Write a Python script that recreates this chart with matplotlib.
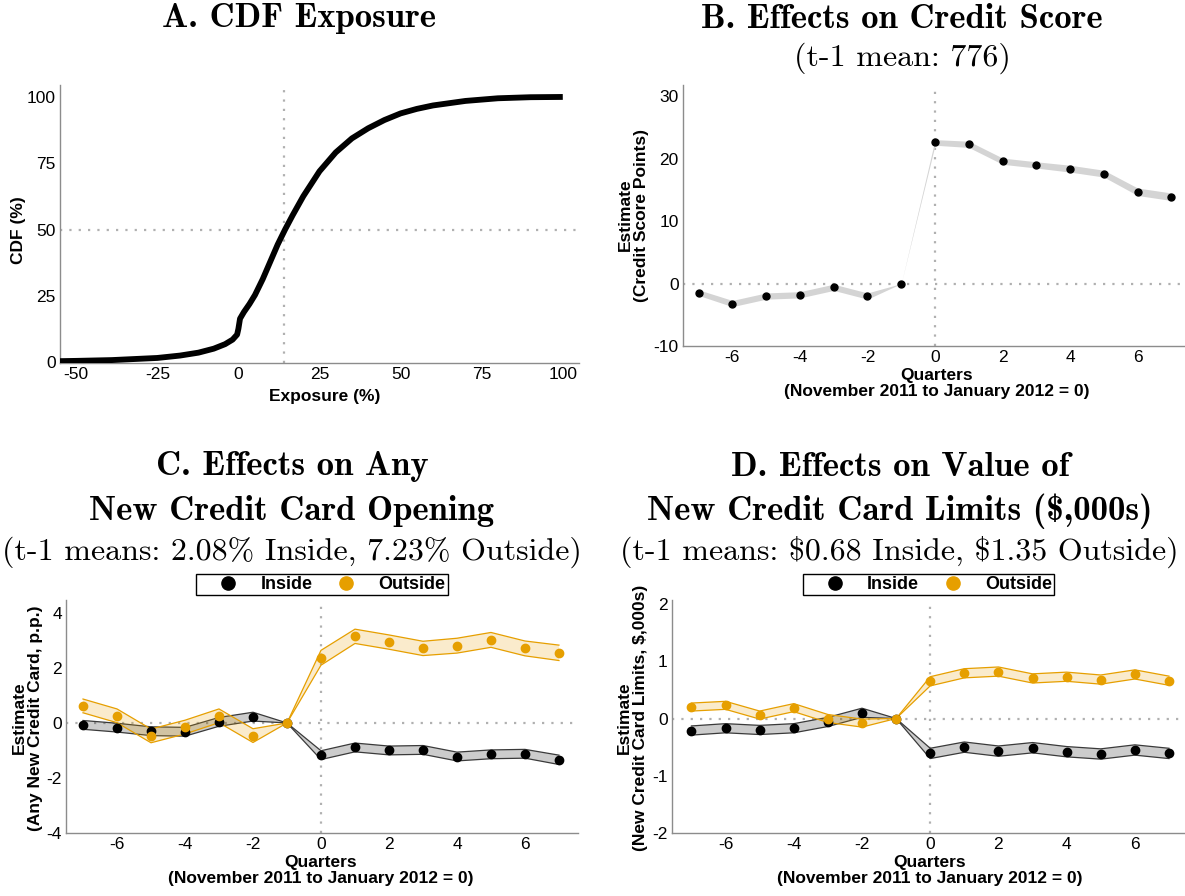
import numpy as np
import matplotlib
matplotlib.use("Agg")
import matplotlib.pyplot as plt
from matplotlib.lines import Line2D

# ---------------- data ----------------
# Panel A: CDF of exposure
cdf_x = [-55, -50, -39, -25, -18, -12.3, -7.6, -4.1, -1.8, -0.4, 0, 0.5, 1.7, 3.4, 5.1,
         7.5, 9.8, 12.1, 14.4, 16.7, 20, 25, 30, 35, 40, 45, 50, 55, 60, 70, 80, 90, 100]
cdf_y = [0.5, 0.6, 0.9, 1.7, 2.6, 3.7, 5.2, 6.9, 8.6, 10.5, 12.7, 16.5, 19.0, 22.0, 25.4,
         31.4, 37.9, 44.4, 50.1, 55.4, 62.6, 72.0, 79.1, 84.4, 88.2, 91.3, 93.8, 95.5, 96.8,
         98.5, 99.5, 99.9, 100]
cdf_median = 14
cdf_ticks_x = [-50, -25, 0, 25, 50, 75, 100]
cdf_ticks_y = [0, 25, 50, 75, 100]

quarters = [-7, -6, -5, -4, -3, -2, -1, 0, 1, 2, 3, 4, 5, 6, 7]
q_ticks = [-6, -4, -2, 0, 2, 4, 6]

# Panel B: credit score
score_est = [-1.45, -3.2, -2.0, -1.8, -0.6, -2.0, 0, 22.6, 22.3, 19.6, 19.0, 18.4, 17.6, 14.7, 13.9]
score_se = [0.45, 0.5, 0.5, 0.5, 0.5, 0.5, 0, 0.45, 0.5, 0.5, 0.5, 0.55, 0.55, 0.6, 0.6]
score_ticks = [-10, 0, 10, 20, 30]

# Panel C: any new credit card (p.p.)
card_in = [-0.07, -0.17, -0.30, -0.32, 0.04, 0.23, 0, -1.17, -0.89, -1.00, -0.98, -1.22, -1.14, -1.12, -1.34]
card_in_se = [0.16, 0.16, 0.16, 0.16, 0.16, 0.16, 0, 0.16, 0.16, 0.16, 0.16, 0.16, 0.16, 0.16, 0.17]
card_out = [0.62, 0.26, -0.47, -0.15, 0.26, -0.46, 0, 2.37, 3.15, 2.94, 2.71, 2.81, 3.02, 2.71, 2.55]
card_out_se = [0.25, 0.25, 0.25, 0.25, 0.25, 0.25, 0, 0.27, 0.26, 0.26, 0.26, 0.27, 0.27, 0.27, 0.28]
card_ticks = [-4, -2, 0, 2, 4]

# Panel D: value of new credit card limits ($,000s)
lim_in = [-0.21, -0.17, -0.20, -0.17, -0.06, 0.10, 0, -0.61, -0.50, -0.57, -0.51, -0.58, -0.62, -0.55, -0.61]
lim_in_se = [0.08, 0.08, 0.08, 0.08, 0.08, 0.08, 0, 0.09, 0.09, 0.09, 0.09, 0.09, 0.09, 0.09, 0.09]
lim_out = [0.20, 0.23, 0.06, 0.19, 0.00, -0.08, 0, 0.65, 0.79, 0.82, 0.70, 0.73, 0.68, 0.77, 0.66]
lim_out_se = [0.07, 0.07, 0.07, 0.07, 0.07, 0.07, 0, 0.08, 0.08, 0.08, 0.08, 0.08, 0.08, 0.08, 0.08]
lim_ticks = [-2, -1, 0, 1, 2]

group_labels = ["Inside", "Outside"]

# ---------------- style ----------------
plt.rcParams['axes.unicode_minus'] = False
SANS = "Liberation Sans"
TITLE_B = "cmb10"
TITLE_R = "cmr10"
ORANGE = "#E69F00"
AXCOL = "#8c8c8c"
REFCOL = "#b0b0b0"
TICK_FS = 12.5
LAB_FS = 12.5
TITLE_BFS = 25
TITLE_RFS = 23

W, H = 1185, 896
fig = plt.figure(figsize=(W / 100, H / 100), dpi=100)


def px_axes(left, top, right, bottom):
    return fig.add_axes([left / W, 1 - bottom / H, (right - left) / W, (bottom - top) / H])


def style(ax):
    for s in ["top", "right"]:
        ax.spines[s].set_visible(False)
    for s in ["left", "bottom"]:
        ax.spines[s].set_color(AXCOL)
        ax.spines[s].set_linewidth(1.0)
    ax.tick_params(axis="x", length=0, pad=3, labelsize=TICK_FS, colors="black")
    ax.tick_params(axis="y", length=0, pad=3, labelsize=TICK_FS, colors="black")
    for lab in ax.get_xticklabels() + ax.get_yticklabels():
        lab.set_fontfamily(SANS)


def refline(ax, h=None, v=None):
    kw = dict(color=REFCOL, lw=1.6, linestyle=(0, (1, 3.2)), zorder=1)
    if h is not None:
        ax.axhline(h, **kw)
    if v is not None:
        ax.axvline(v, **kw)


def ftext(x, y, s, **kw):
    fig.text(x / W, 1 - y / H, s, **kw)


XLAB = "Quarters\n(November 2011 to January 2012 = 0)"

# ---------------- Panel A ----------------
axA = px_axes(60, 85, 579, 363)
refline(axA, h=50, v=cdf_median)
axA.plot(cdf_x, cdf_y, color="black", lw=4.2, solid_capstyle="butt", solid_joinstyle="round", zorder=3)
axA.set_xlim(-55, 105)
axA.set_ylim(-0.2, 104.5)
axA.set_xticks(cdf_ticks_x)
axA.set_yticks(cdf_ticks_y)
style(axA)
ftext(299, 19, "A. CDF Exposure", family=TITLE_B, fontsize=TITLE_BFS, ha="center", va="center")
ftext(325, 396, "Exposure (%)", family=SANS, weight="bold", fontsize=LAB_FS, ha="center", va="center")
ftext(18, 230, "CDF (%)", family=SANS, weight="bold", fontsize=LAB_FS, ha="center", va="center", rotation=90)

# ---------------- Panel B ----------------
axB = px_axes(683, 85, 1185, 346)
refline(axB, h=0, v=0)
sb = np.array(score_est)
seb = np.array(score_se)
axB.fill_between(quarters, sb - seb, sb + seb, color="#d4d4d4", lw=0, zorder=2)
axB.plot(quarters, score_est, "o", color="black", ms=5, zorder=4)
axB.set_xlim(-7.46, 7.4)
axB.set_ylim(-10, 31.8)
axB.set_xticks(q_ticks)
axB.set_yticks(score_ticks)
style(axB)
ftext(902, 19, "B. Effects on Credit Score", family=TITLE_B, fontsize=TITLE_BFS, ha="center", va="center")
ftext(902, 58, "(t-1 mean: 776)", family=TITLE_R, fontsize=TITLE_RFS, ha="center", va="center")
ftext(937, 368, XLAB, family=SANS, weight="bold",
      fontsize=LAB_FS, ha="center", va="top", linespacing=1.05)
ftext(633, 215, "Estimate\n(Credit Score Points)", family=SANS, weight="bold", fontsize=LAB_FS,
      ha="center", va="center", rotation=90, linespacing=1.1)


# ---------------- Panels C & D ----------------
def did_panel(ax, est_in, se_in, est_out, se_out, ylim, yticks, xlim):
    refline(ax, h=0, v=0)
    ei, si = np.array(est_in), np.array(se_in)
    eo, so = np.array(est_out), np.array(se_out)
    ax.fill_between(quarters, ei - si, ei + si, facecolor=(0, 0, 0, 0.2), edgecolor="none", zorder=2)
    ax.plot(quarters, ei - si, color="#3a3a3a", lw=0.9, zorder=2)
    ax.plot(quarters, ei + si, color="#3a3a3a", lw=0.9, zorder=2)
    ax.fill_between(quarters, eo - so, eo + so, facecolor=ORANGE, alpha=0.2, edgecolor="none", zorder=2)
    ax.plot(quarters, eo - so, color=ORANGE, lw=0.9, zorder=2)
    ax.plot(quarters, eo + so, color=ORANGE, lw=0.9, zorder=2)
    ax.plot(quarters, est_in, "o", color="black", ms=6, zorder=4)
    ax.plot(quarters, est_out, "o", color=ORANGE, ms=6, zorder=4)
    ax.set_xlim(*xlim)
    ax.set_ylim(*ylim)
    ax.set_xticks(q_ticks)
    ax.set_yticks(yticks)
    style(ax)
    handles = [Line2D([], [], marker="o", ls="none", color="black", ms=9.5),
               Line2D([], [], marker="o", ls="none", color=ORANGE, ms=9.5)]
    leg = ax.legend(handles, group_labels, loc="lower center", bbox_to_anchor=(0.5, 1.02), ncol=2,
                    frameon=True, fancybox=False, edgecolor="black", framealpha=1,
                    prop={"family": SANS, "weight": "bold", "size": 13},
                    handlelength=3.3, handletextpad=0.15, columnspacing=0.2,
                    borderpad=0.12, borderaxespad=0)
    leg.get_frame().set_linewidth(1.0)


axC = px_axes(66, 600, 578, 833)
did_panel(axC, card_in, card_in_se, card_out, card_out_se, (-4, 4.47), card_ticks, (-7.5, 7.56))
ftext(292, 467, "C. Effects on Any", family=TITLE_B, fontsize=TITLE_BFS, ha="center", va="center")
ftext(292, 511, "New Credit Card Opening", family=TITLE_B, fontsize=TITLE_BFS, ha="center", va="center")
ftext(292, 552, "(t-1 means: 2.08% Inside, 7.23% Outside)", family=TITLE_R, fontsize=TITLE_RFS,
      ha="center", va="center")
ftext(321, 855, XLAB, family=SANS, weight="bold",
      fontsize=LAB_FS, ha="center", va="top", linespacing=1.05)
ftext(27, 718, "Estimate\n(Any New Credit Card, p.p.)", family=SANS, weight="bold", fontsize=LAB_FS,
      ha="center", va="center", rotation=90, linespacing=1.1)

axD = px_axes(672, 600, 1185, 833)
did_panel(axD, lim_in, lim_in_se, lim_out, lim_out_se, (-2, 2.07), lim_ticks, (-7.57, 7.47))
ftext(900, 467, "D. Effects on Value of", family=TITLE_B, fontsize=TITLE_BFS, ha="center", va="center")
ftext(900, 511, "New Credit Card Limits (\\$,000s)", family=TITLE_B, fontsize=TITLE_BFS, ha="center", va="center")
ftext(899, 552, "(t-1 means: \\$0.68 Inside, \\$1.35 Outside)", family=TITLE_R, fontsize=TITLE_RFS,
      ha="center", va="center")
ftext(930, 855, XLAB, family=SANS, weight="bold",
      fontsize=LAB_FS, ha="center", va="top", linespacing=1.05)
ftext(632, 718, "Estimate\n(New Credit Card Limits, \\$,000s)", family=SANS, weight="bold", fontsize=LAB_FS,
      ha="center", va="center", rotation=90, linespacing=1.1)

fig.savefig("out.png", dpi=100)
